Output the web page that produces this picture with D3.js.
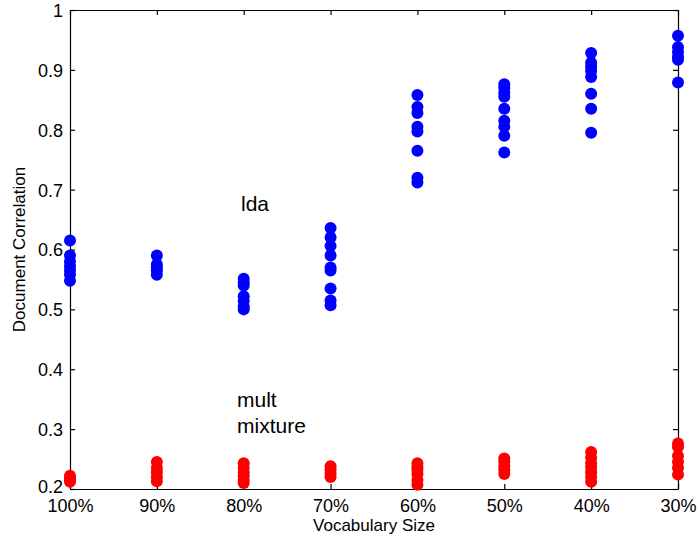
<!DOCTYPE html>
<html>
<head>
<meta charset="utf-8">
<script src="https://cdn.jsdelivr.net/npm/d3@7"></script>
<style>
  html, body { margin: 0; padding: 0; background: #fff; }
  svg text { font-family: "Liberation Sans", Arial, sans-serif; fill: #000; }
</style>
</head>
<body>
<svg id="chart" width="699" height="544"></svg>
<script>
// Vocabulary sizes along the x axis
const categories = ["100%", "90%", "80%", "70%", "60%", "50%", "40%", "30%"];

// Document correlation per vocabulary size, one run per value
const ldaValues = [
  [0.615, 0.59, 0.58, 0.572, 0.565, 0.558, 0.548],
  [0.59, 0.575, 0.57, 0.565, 0.558],
  [0.551, 0.545, 0.54, 0.522, 0.514, 0.505, 0.5],
  [0.636, 0.62, 0.606, 0.59, 0.57, 0.565, 0.535, 0.515, 0.507],
  [0.858, 0.838, 0.828, 0.805, 0.797, 0.765, 0.72, 0.712],
  [0.876, 0.87, 0.862, 0.855, 0.835, 0.815, 0.805, 0.79, 0.762],
  [0.928, 0.912, 0.905, 0.898, 0.888, 0.86, 0.835, 0.795],
  [0.957, 0.938, 0.93, 0.922, 0.917, 0.879]
];

const mixtureValues = [
  [0.222, 0.218, 0.215, 0.212],
  [0.245, 0.235, 0.228, 0.22, 0.213],
  [0.243, 0.235, 0.228, 0.222, 0.215, 0.21],
  [0.238, 0.232, 0.226, 0.22],
  [0.243, 0.237, 0.232, 0.225, 0.215, 0.207],
  [0.251, 0.245, 0.238, 0.232, 0.225],
  [0.262, 0.252, 0.243, 0.236, 0.228, 0.22, 0.212],
  [0.276, 0.27, 0.255, 0.245, 0.235, 0.224]
];

const yTicks = [0.2, 0.3, 0.4, 0.5, 0.6, 0.7, 0.8, 0.9, 1];

const svg = d3.select("#chart");
const plot = { left: 70, right: 678, top: 10, bottom: 489 };

const x = d3.scalePoint().domain(categories).range([plot.left, plot.right]);
const y = d3.scaleLinear().domain([0.2, 1]).range([plot.bottom, plot.top]);

const tickFmt = d => (d === 1 ? "1" : d3.format(".1f")(d));

// Frame with inward ticks on all four sides
const gBottom = svg.append("g").attr("transform", `translate(0,${plot.bottom})`)
  .call(d3.axisBottom(x).tickSizeInner(-5).tickSizeOuter(0).tickPadding(10));
const gTop = svg.append("g").attr("transform", `translate(0,${plot.top})`)
  .call(d3.axisTop(x).tickSizeInner(-5).tickSizeOuter(0).tickFormat(""));
const gLeft = svg.append("g").attr("transform", `translate(${plot.left},0)`)
  .call(d3.axisLeft(y).tickValues(yTicks).tickFormat(tickFmt).tickSizeInner(-5).tickSizeOuter(0).tickPadding(7));
const gRight = svg.append("g").attr("transform", `translate(${plot.right},0)`)
  .call(d3.axisRight(y).tickValues(yTicks).tickSizeInner(-5).tickSizeOuter(0).tickFormat(""));

[gBottom, gTop, gLeft, gRight].forEach(g => {
  g.selectAll("path, line").attr("stroke", "#000").attr("stroke-width", 1.2);
  g.selectAll("text").style("font-size", "18px").style("font-family", "Liberation Sans, Arial, sans-serif").attr("fill", "#000");
});
gLeft.selectAll("text").attr("dy", d => (d === 0.2 ? "0.2em" : "0.36em"));
gBottom.selectAll("text").attr("dy", "0.71em");

// Scatter columns
function drawSeries(values, color) {
  const pts = [];
  values.forEach((col, i) => col.forEach(v => pts.push({ c: categories[i], v })));
  svg.append("g").selectAll("circle").data(pts).join("circle")
    .attr("cx", d => x(d.c))
    .attr("cy", d => y(d.v))
    .attr("r", 6)
    .attr("fill", color);
}
drawSeries(ldaValues, "#0000ff");
drawSeries(mixtureValues, "#ff0000");

// Series labels
svg.append("text").attr("x", 241).attr("y", 211).style("font-size", "21px").text("lda");
svg.append("text").attr("x", 237).attr("y", 407).style("font-size", "21px").text("mult");
svg.append("text").attr("x", 237).attr("y", 433).style("font-size", "21px").text("mixture");

// Axis titles
svg.append("text").attr("x", (plot.left + plot.right) / 2).attr("y", 531)
  .attr("text-anchor", "middle").style("font-size", "17px").text("Vocabulary Size");
svg.append("text").attr("transform", `translate(25,${(plot.top + plot.bottom) / 2}) rotate(-90)`)
  .attr("text-anchor", "middle").style("font-size", "17px").text("Document Correlation");
</script>
</body>
</html>
